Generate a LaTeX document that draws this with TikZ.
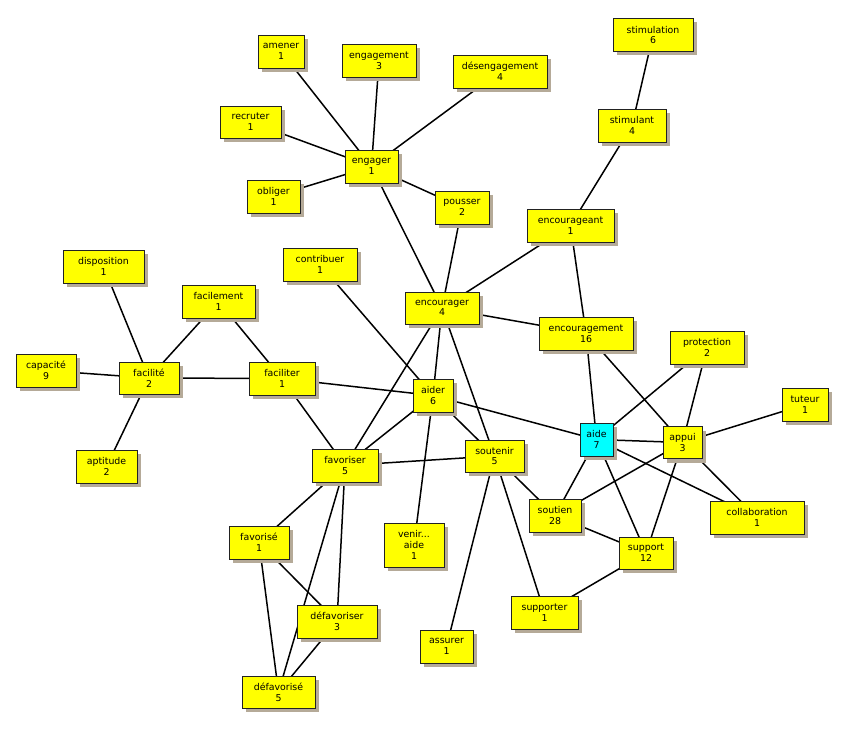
\documentclass[tikz,border=0pt]{standalone}
\usepackage{fontspec}
\setmainfont{DejaVu Sans}
\usetikzlibrary{shadows,backgrounds}
\definecolor{boxyellow}{HTML}{FFFF00}
\definecolor{boxcyan}{HTML}{00FFFF}
\definecolor{shadowc}{HTML}{B5AA98}
\definecolor{boxborder}{HTML}{222222}
\tikzset{
  term/.style={draw=boxborder, line width=0.8pt, fill=boxyellow, inner sep=0pt,
    align=center, text=black, font=\fontsize{9.4}{10.7}\selectfont,
    drop shadow={shadow xshift=4pt, shadow yshift=-4pt, fill=shadowc, opacity=1}},
  focus/.style={term, fill=boxcyan},
  link/.style={draw=black, line width=1.5pt},
}
\newcommand\bx[6][term]{\node[#1, minimum width=#4pt, minimum height=#5pt] (#2) at (#3) {#6};}
\begin{document}
\begin{tikzpicture}[x=1pt,y=-1pt]
\useasboundingbox (0,0) rectangle (858,738);
\bx{amener}{281,51.5}{46}{33}{amener\\1}
\bx{engagement}{379,60.5}{74}{33}{engagement\\3}
\bx{desengagement}{500,71.5}{94}{33}{désengagement\\4}
\bx{stimulation}{653,35}{80}{33}{stimulation\\6}
\bx{recruter}{250.5,122}{61}{32}{recruter\\1}
\bx{stimulant}{632,125.5}{68}{33}{stimulant\\4}
\bx{engager}{371.5,166.5}{53}{33}{engager\\1}
\bx{obliger}{273.5,196.5}{53}{33}{obliger\\1}
\bx{pousser}{462,207.5}{54}{33}{pousser\\2}
\bx{encourageant}{570.5,225.5}{87}{33}{encourageant\\1}
\bx{disposition}{103.5,266.5}{81}{33}{disposition\\1}
\bx{contribuer}{320,264.5}{74}{33}{contribuer\\1}
\bx{facilement}{218.5,301.5}{73}{33}{facilement\\1}
\bx{encourager}{442,308}{74}{32}{encourager\\4}
\bx{encouragement}{586,333.5}{94}{33}{encouragement\\16}
\bx{protection}{707,347.5}{74}{33}{protection\\2}
\bx{capacite}{46,370.5}{60}{33}{capacité\\9}
\bx{facilite}{149,378}{60}{32}{facilité\\2}
\bx{faciliter}{282,378.5}{66}{33}{faciliter\\1}
\bx{aider}{433,395.5}{40}{33}{aider\\6}
\bx{tuteur}{805,404.5}{46}{33}{tuteur\\1}
\bx[focus]{aide}{596.5,439.5}{33}{33}{aide\\7}
\bx{appui}{682.5,442.5}{39}{32}{appui\\3}
\bx{aptitude}{106.5,466.5}{61}{33}{aptitude\\2}
\bx{favoriser}{345,465.5}{66}{33}{favoriser\\5}
\bx{soutenir}{494.5,456}{59}{32}{soutenir\\5}
\bx{soutien}{555,515.5}{52}{33}{soutien\\28}
\bx{collaboration}{757,517.5}{94}{33}{collaboration\\1}
\bx{favorise}{259,542.5}{60}{33}{favorisé\\1}
\bx{venir}{414,545}{60}{44}{venir...\\aide\\1}
\bx{support}{646,553}{54}{32}{support\\12}
\bx{supporter}{544.5,612.5}{67}{33}{supporter\\1}
\bx{defavoriser}{337,621.5}{80}{33}{défavoriser\\3}
\bx{assurer}{446.5,646.5}{53}{33}{assurer\\1}
\bx{defavorise}{278.5,692}{73}{32}{défavorisé\\5}
\begin{scope}[on background layer]
\foreach \a/\b in {amener/engager, engagement/engager, desengagement/engager,
  recruter/engager, obliger/engager, engager/pousser, engager/encourager,
  pousser/encourager, stimulation/stimulant, stimulant/encourageant,
  encourageant/encourager, encourageant/encouragement, encourager/encouragement,
  disposition/facilite, capacite/facilite, facilement/facilite, facilement/faciliter,
  facilite/faciliter, facilite/aptitude, faciliter/aider, faciliter/favoriser,
  contribuer/aider, encourager/aider, encourager/favoriser, encourager/soutenir,
  aider/favoriser, aider/soutenir, aider/venir, aider/aide, favoriser/soutenir,
  favoriser/favorise, favoriser/defavoriser, favoriser/defavorise,
  favorise/defavoriser, favorise/defavorise, defavoriser/defavorise,
  soutenir/soutien, soutenir/supporter, soutenir/assurer,
  encouragement/aide, encouragement/appui, protection/aide, protection/appui,
  tuteur/appui, aide/appui, aide/soutien, aide/support, aide/collaboration,
  appui/soutien, appui/support, appui/collaboration, soutien/support,
  support/supporter}
  \draw[link] (\a.center) -- (\b.center);
\end{scope}
\end{tikzpicture}
\end{document}
